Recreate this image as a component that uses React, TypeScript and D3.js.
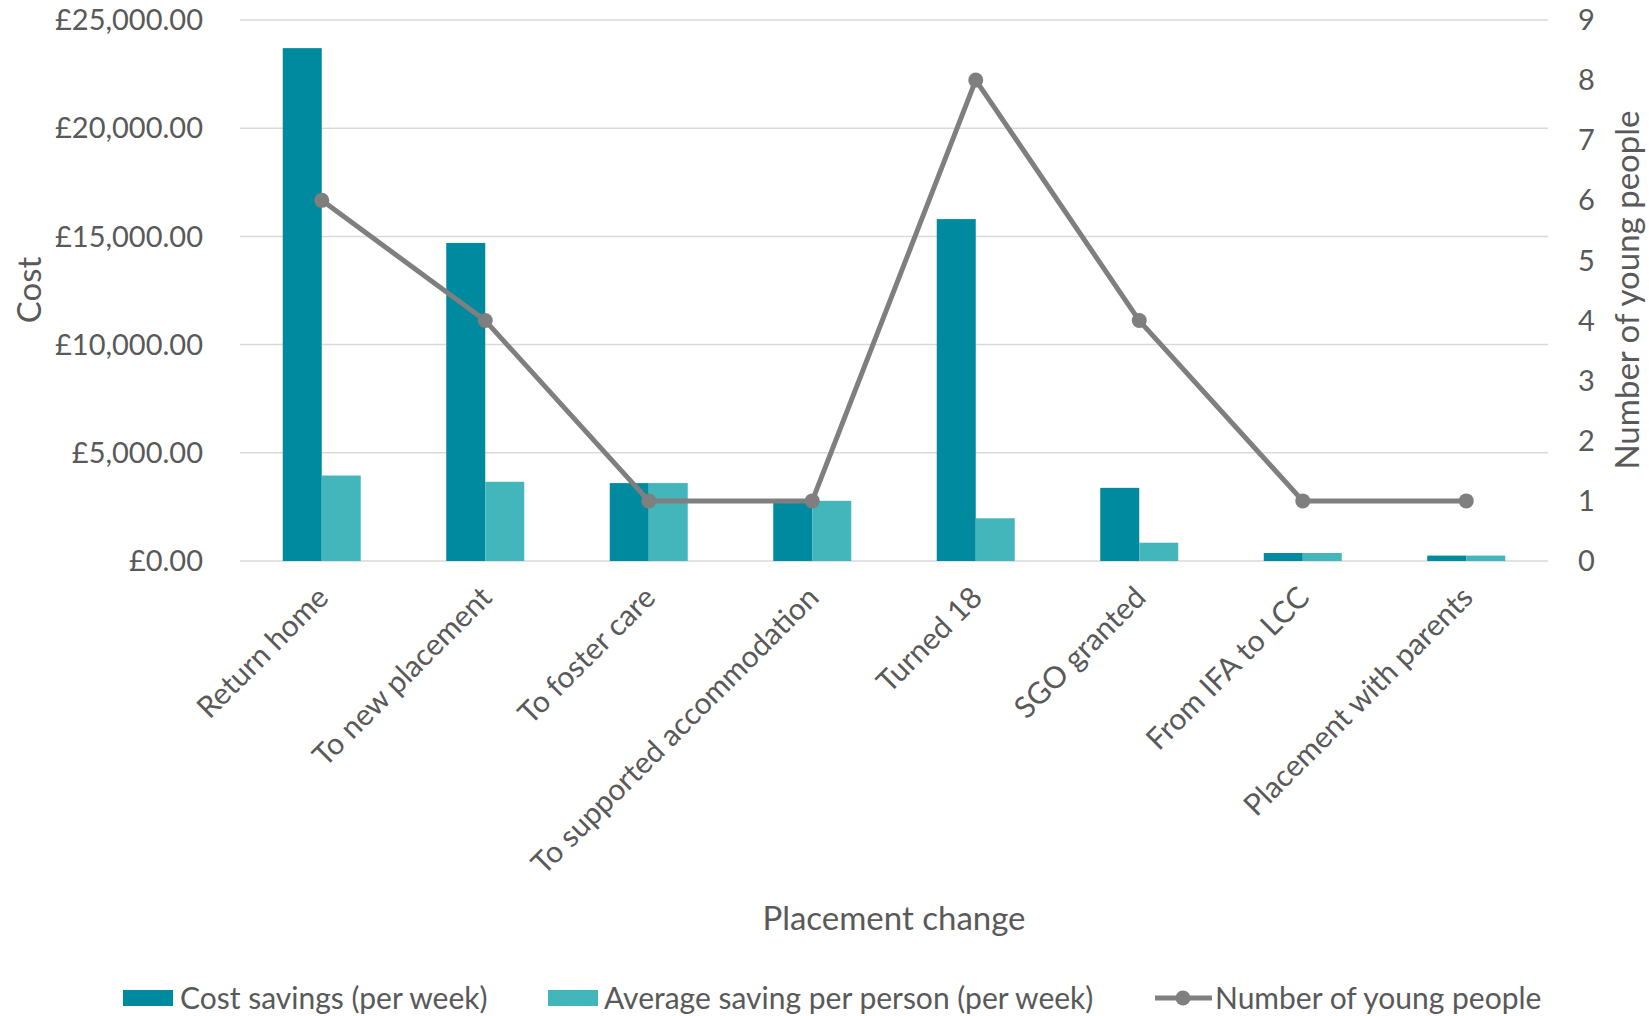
import React from "react";
import * as d3 from "d3";

const categories = [
  "Return home",
  "To new placement",
  "To foster care",
  "To supported accommodation",
  "Turned 18",
  "SGO granted",
  "From IFA to LCC",
  "Placement with parents",
];
const costSavings = [23700, 14700, 3600, 2780, 15800, 3380, 370, 250];
const avgSaving = [3950, 3660, 3600, 2780, 1975, 845, 370, 250];
const youngPeople = [6, 4, 1, 1, 8, 4, 1, 1];
const leftTicks = [0, 5000, 10000, 15000, 20000, 25000];
const rightTicks = [0, 1, 2, 3, 4, 5, 6, 7, 8, 9];
const seriesNames = ["Cost savings (per week)", "Average saving per person (per week)", "Number of young people"];

const W = 1649;
const H = 1016;
const plot = { left: 240, right: 1548, top: 20, bottom: 561 };
const C_DARK = "#008A9F";
const C_LIGHT = "#43B6BB";
const C_LINE = "#7F7F7F";
const C_TEXT = "#595959";
const C_GRID = "#D9D9D9";
const FONT = "Lato, sans-serif";
const TICK = 29;
const CAT = 30;
const LEG = 30;
const TITLE = 33;

export default function App() {
  const x = d3
    .scaleBand<string>()
    .domain(categories)
    .range([plot.left, plot.right])
    .paddingInner(0.523)
    .paddingOuter(0.2615);
  const x1 = d3.scaleBand<string>().domain(["cost", "avg"]).range([0, x.bandwidth()]);
  const y = d3.scaleLinear().domain([0, 25000]).range([plot.bottom, plot.top]);
  const y2 = d3.scaleLinear().domain([0, 9]).range([plot.bottom, plot.top]);
  const fmt = (v: number) => "£" + d3.format(",.2f")(v);
  const cx = (c: string) => (x(c) as number) + x.bandwidth() / 2;
  const line = d3
    .line<number>()
    .x((_, i) => cx(categories[i]))
    .y((d) => y2(d));

  return (
    <svg
      width={W}
      height={H}
      style={{ position: "absolute", left: 0, top: 0, background: "#fff" }}
      fontFamily={FONT}
    >
      {leftTicks.map((t) => (
        <line key={"g" + t} x1={plot.left} x2={plot.right} y1={y(t)} y2={y(t)} stroke={C_GRID} strokeWidth={1.5} />
      ))}
      {leftTicks.map((t) => (
        <text key={"l" + t} x={203} y={y(t)} dy="0.35em" textAnchor="end" fontSize={TICK} fill={C_TEXT}>
          {fmt(t)}
        </text>
      ))}
      {rightTicks.map((t) => (
        <text key={"r" + t} x={1578} y={y2(t)} dy="0.35em" textAnchor="start" fontSize={TICK} fill={C_TEXT}>
          {t}
        </text>
      ))}
      <text transform={`translate(41,290) rotate(-90)`} textAnchor="middle" fontSize={TITLE} fill={C_TEXT}>
        Cost
      </text>
      <text transform={`translate(1639,290) rotate(-90)`} textAnchor="middle" fontSize={TITLE} fill={C_TEXT}>
        Number of young people
      </text>
      {categories.map((c, i) => (
        <g key={"b" + c}>
          <rect
            x={(x(c) as number) + (x1("cost") as number)}
            y={y(costSavings[i])}
            width={x1.bandwidth()}
            height={plot.bottom - y(costSavings[i])}
            fill={C_DARK}
          />
          <rect
            x={(x(c) as number) + (x1("avg") as number)}
            y={y(avgSaving[i])}
            width={x1.bandwidth()}
            height={plot.bottom - y(avgSaving[i])}
            fill={C_LIGHT}
          />
        </g>
      ))}
      <path d={line(youngPeople) || ""} fill="none" stroke={C_LINE} strokeWidth={5} strokeLinejoin="round" />
      {youngPeople.map((v, i) => (
        <circle key={"m" + i} cx={cx(categories[i])} cy={y2(v)} r={7.5} fill={C_LINE} />
      ))}
      {categories.map((c) => (
        <text
          key={"c" + c}
          transform={`translate(${cx(c) + 1},${plot.bottom + 31}) rotate(-45)`}
          textAnchor="end"
          dy="0.35em"
          fontSize={CAT}
          fill={C_TEXT}
        >
          {c}
        </text>
      ))}
      <text x={(plot.left + plot.right) / 2} y={918} dy="0.35em" textAnchor="middle" fontSize={TITLE} fill={C_TEXT}>
        Placement change
      </text>
      <g>
        <rect x={123} y={990} width={50} height={16} fill={C_DARK} />
        <text x={180} y={998} dy="0.35em" fontSize={LEG} fill={C_TEXT}>
          {seriesNames[0]}
        </text>
        <rect x={548} y={990} width={50} height={16} fill={C_LIGHT} />
        <text x={604} y={998} dy="0.35em" fontSize={LEG} fill={C_TEXT}>
          {seriesNames[1]}
        </text>
        <line x1={1155} x2={1212} y1={998} y2={998} stroke={C_LINE} strokeWidth={5} />
        <circle cx={1183} cy={998} r={7.5} fill={C_LINE} />
        <text x={1215} y={998} dy="0.35em" fontSize={LEG} fill={C_TEXT}>
          {seriesNames[2]}
        </text>
      </g>
    </svg>
  );
}
